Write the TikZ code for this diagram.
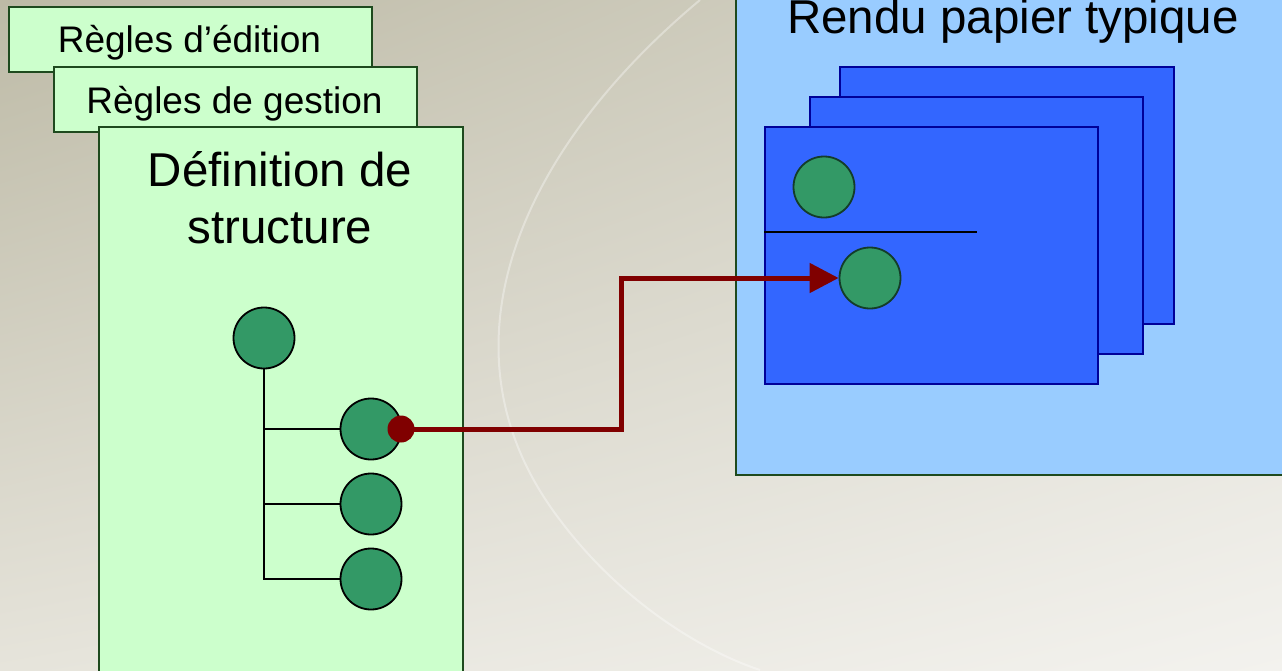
\documentclass[tikz,border=0pt]{standalone}
\usepackage{fontspec}
\setmainfont{Liberation Sans}
\usetikzlibrary{arrows.meta,shadings}
\definecolor{bgA}{HTML}{BDBAA6}
\definecolor{bgB}{HTML}{D9D7CB}
\definecolor{bgC}{HTML}{E6E4DB}
\definecolor{bgD}{HTML}{F3F2EE}
\definecolor{paleGreen}{HTML}{CCFFCC}
\definecolor{boxLine}{HTML}{1E4A1E}
\definecolor{paleBlue}{HTML}{99CCFF}
\definecolor{pageBlue}{HTML}{3366FF}
\definecolor{pageLine}{HTML}{000099}
\definecolor{nodeGreen}{HTML}{339966}
\definecolor{darkRed}{HTML}{800000}
\tikzset{
  greenbox/.style={draw=boxLine, fill=paleGreen, line width=1.5pt, rectangle, anchor=north west, inner sep=0pt},
  bluebox/.style={draw=boxLine, fill=paleBlue, line width=1.5pt, rectangle, anchor=north west, inner sep=0pt},
  pagebox/.style={draw=pageLine, fill=pageBlue, line width=2pt, rectangle, anchor=north west, inner sep=0pt},
  dotnode/.style={circle, draw=black, fill=nodeGreen, line width=1.8pt, minimum size=61pt, inner sep=0pt},
  dotpage/.style={dotnode, draw=black!60!nodeGreen},
  smalltext/.style={anchor=base, font=\fontsize{37}{44}\selectfont, inner sep=0pt},
  bigtext/.style={anchor=base, font=\fontsize{47.5}{57}\selectfont, inner sep=0pt, align=center},
  treeline/.style={draw=black, line width=2pt},
  link/.style={draw=darkRed, line width=5pt},
}
\begin{document}
\begin{tikzpicture}[x=1pt,y=-1pt]
\useasboundingbox (0,0) rectangle (1282,670);
% background
\shade[upper left=bgA, upper right=bgB, lower left=bgC, lower right=bgD] (0,0) rectangle (1282,670);
\draw[white, opacity=0.35, line width=2pt] (700,0) .. controls (520,150) and (430,350) .. (560,520) .. controls (620,600) and (700,650) .. (760,670);
% right big box
\node[bluebox, minimum width=560pt, minimum height=480pt] (render) at (735,-6) {};
\node[bigtext] (rendertxt) at (1013,33) {Rendu papier typique};
% pages
\node[pagebox, minimum width=334pt, minimum height=257pt] (page3) at (839,66) {};
\node[pagebox, minimum width=333pt, minimum height=257pt] (page2) at (809,96) {};
\node[pagebox, minimum width=333pt, minimum height=257pt] (page1) at (764,126) {};
\coordinate (sepL) at (764,232);
\coordinate (sepR) at (977,232);
\draw[line width=1.8pt, black] (sepL) -- (sepR);
\node[dotpage] (p1) at (824,187) {};
\node[dotpage] (p2) at (870,278) {};
% left boxes
\node[greenbox, minimum width=363pt, minimum height=65pt] (edit) at (8,6) {};
\node[smalltext] (edittxt) at (189.5,52) {Règles d’édition};
\node[greenbox, minimum width=363pt, minimum height=65pt] (gest) at (53,66) {};
\node[smalltext] (gesttxt) at (234.5,113) {Règles de gestion};
\node[greenbox, minimum width=364pt, minimum height=560pt] (struct) at (98,126) {};
\node[bigtext] (structtxt1) at (280,186) {Définition de};
\node[bigtext] (structtxt2) at (280,243) {structure};
% tree
\node[dotnode] (root) at (264,338) {};
\node[dotnode] (c1) at (371,429) {};
\node[dotnode] (c2) at (371,504) {};
\node[dotnode] (c3) at (371,579) {};
\draw[treeline] (root.south) |- (c3.west);
\draw[treeline] (root.south |- c1.west) -- (c1.west);
\draw[treeline] (root.south |- c2.west) -- (c2.west);
% link
\node[circle, fill=darkRed, minimum size=27pt, inner sep=0pt] (anchorpt) at (401,429) {};
\coordinate (bend) at (621,429);
\draw[link, -{Triangle[length=29pt,width=29pt]}] (anchorpt.center) -- (bend) |- (p2.west);
\end{tikzpicture}
\end{document}
